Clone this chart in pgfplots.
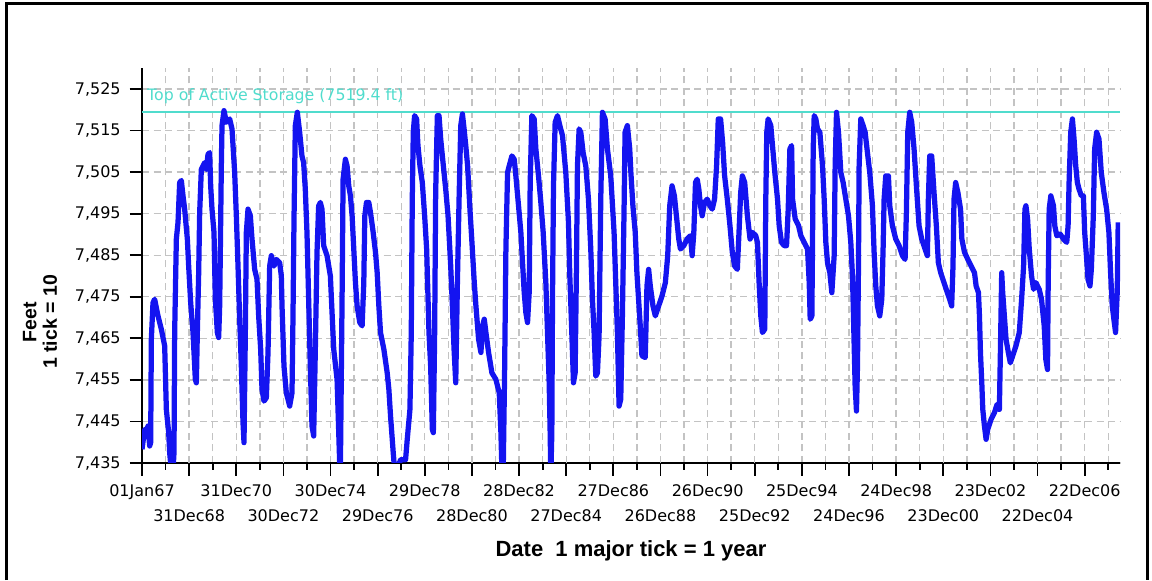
\documentclass[border=0pt]{standalone}
\usepackage{pgfplots}
\pgfplotsset{compat=1.18}
\usepackage{fontspec}
\setmainfont{DejaVu Sans}
\newfontfamily\labelfont{Liberation Sans}
\definecolor{lineblue}{RGB}{20,20,240}
\definecolor{topline}{RGB}{80,220,205}
\definecolor{gridgray}{RGB}{195,195,195}

% reservoir elevation, x = years (365 d) after 01Jan67
\pgfplotstableread{
x y
0.000 7438.3
0.113 7443.1
0.184 7442.3
0.255 7443.9
0.325 7439.1
0.368 7439.9
0.396 7464.8
0.467 7473.6
0.537 7474.4
0.679 7470.4
0.820 7467.2
0.962 7463.2
1.033 7447.9
1.132 7442.3
1.174 7437.5
1.245 7433.0
1.315 7433.0
1.358 7437.5
1.386 7466.4
1.457 7488.9
1.528 7492.9
1.598 7502.5
1.669 7503.0
1.740 7499.3
1.810 7496.1
1.924 7488.9
1.980 7482.4
2.065 7473.6
2.164 7466.4
2.263 7455.1
2.306 7454.3
2.348 7466.4
2.405 7480.8
2.447 7495.3
2.518 7505.7
2.659 7507.3
2.730 7505.7
2.801 7509.3
2.871 7509.7
2.914 7501.7
2.970 7496.1
3.055 7490.5
3.112 7474.4
3.197 7466.4
3.253 7465.2
3.296 7472.8
3.366 7506.5
3.395 7516.2
3.479 7519.8
3.579 7517.0
3.720 7517.8
3.819 7515.4
3.932 7504.9
4.003 7494.5
4.074 7482.4
4.144 7469.6
4.215 7458.3
4.286 7444.7
4.328 7439.9
4.385 7466.4
4.427 7490.5
4.498 7496.1
4.597 7494.5
4.668 7488.9
4.781 7481.6
4.880 7479.2
4.950 7470.4
5.035 7462.4
5.092 7452.7
5.177 7449.9
5.276 7450.7
5.347 7461.6
5.417 7482.4
5.488 7484.9
5.601 7482.4
5.700 7484.0
5.842 7483.2
5.912 7480.0
5.941 7472.8
6.025 7458.3
6.124 7451.9
6.266 7448.7
6.365 7451.9
6.407 7470.4
6.450 7493.7
6.506 7516.2
6.591 7519.4
6.690 7514.6
6.787 7508.9
6.858 7507.3
6.929 7500.9
7.000 7490.5
7.071 7474.4
7.142 7458.3
7.213 7443.9
7.284 7441.5
7.355 7462.4
7.426 7485.7
7.496 7496.9
7.567 7497.7
7.638 7496.1
7.709 7487.3
7.851 7484.9
7.993 7480.0
8.064 7471.2
8.135 7462.4
8.277 7455.1
8.348 7442.3
8.390 7434.5
8.418 7433.5
8.447 7450.3
8.489 7474.4
8.532 7503.3
8.631 7508.1
8.702 7506.5
8.773 7501.7
8.844 7499.3
8.915 7494.5
8.986 7486.5
9.057 7478.4
9.128 7472.8
9.241 7468.8
9.340 7468.0
9.411 7478.4
9.454 7494.5
9.525 7497.7
9.624 7497.7
9.695 7495.3
9.809 7490.5
9.908 7485.7
9.979 7480.8
10.050 7472.8
10.121 7466.4
10.262 7462.4
10.404 7456.7
10.475 7452.7
10.546 7446.3
10.660 7437.5
10.716 7433.5
10.830 7433.5
10.972 7435.8
11.184 7435.8
11.255 7440.7
11.369 7447.9
11.426 7466.4
11.468 7498.5
11.511 7514.6
11.567 7518.6
11.652 7517.8
11.709 7511.4
11.794 7506.5
11.894 7502.5
11.993 7494.5
12.078 7486.5
12.177 7466.4
12.248 7458.3
12.319 7443.1
12.362 7442.3
12.418 7466.4
12.461 7500.1
12.532 7518.6
12.603 7518.6
12.674 7513.0
12.787 7506.5
12.887 7500.9
12.986 7494.5
13.099 7482.4
13.170 7472.8
13.241 7462.4
13.312 7454.3
13.383 7478.4
13.454 7498.5
13.525 7516.2
13.596 7519.0
13.667 7515.4
13.738 7511.4
13.816 7506.5
13.915 7496.1
14.000 7488.1
14.099 7478.4
14.169 7472.8
14.282 7464.8
14.381 7461.6
14.452 7468.0
14.523 7469.6
14.593 7466.4
14.706 7461.6
14.847 7456.7
15.017 7455.1
15.158 7451.9
15.229 7442.3
15.271 7433.5
15.328 7433.5
15.384 7455.9
15.441 7486.5
15.511 7504.9
15.582 7506.5
15.695 7508.9
15.794 7508.1
15.864 7504.1
15.977 7496.9
16.076 7490.5
16.147 7483.2
16.218 7476.0
16.288 7471.2
16.359 7468.8
16.429 7476.0
16.472 7502.5
16.542 7518.6
16.641 7517.8
16.712 7510.6
16.825 7504.1
16.924 7497.7
17.023 7490.5
17.136 7478.4
17.206 7466.4
17.277 7454.3
17.319 7442.3
17.347 7432.0
17.390 7442.3
17.418 7474.4
17.460 7501.7
17.531 7517.0
17.630 7518.6
17.729 7516.2
17.842 7513.8
17.983 7504.9
18.096 7492.9
18.153 7480.0
18.237 7466.4
18.308 7454.3
18.379 7456.7
18.435 7482.4
18.477 7506.5
18.548 7515.4
18.619 7514.6
18.718 7509.7
18.831 7506.5
18.944 7498.5
19.042 7486.5
19.113 7474.4
19.184 7466.4
19.254 7455.9
19.325 7456.7
19.395 7465.6
19.466 7498.5
19.537 7519.4
19.650 7517.8
19.749 7510.6
19.890 7504.1
20.031 7490.5
20.102 7478.4
20.172 7466.4
20.243 7448.7
20.314 7450.3
20.384 7470.4
20.455 7496.1
20.497 7514.6
20.596 7516.2
20.695 7510.6
20.744 7504.9
20.830 7496.9
20.929 7490.5
21.000 7480.8
21.071 7474.4
21.142 7468.0
21.213 7460.8
21.355 7460.4
21.426 7477.6
21.497 7481.6
21.568 7477.6
21.682 7472.8
21.781 7470.4
21.923 7472.8
22.065 7475.2
22.207 7478.4
22.307 7484.9
22.392 7496.9
22.491 7501.7
22.591 7499.3
22.676 7494.5
22.776 7488.9
22.847 7486.5
22.989 7487.3
23.131 7488.9
23.273 7489.7
23.344 7484.9
23.415 7490.5
23.486 7502.5
23.557 7503.3
23.628 7500.9
23.699 7496.9
23.770 7494.5
23.869 7497.7
23.983 7498.5
24.097 7496.9
24.196 7496.1
24.295 7498.5
24.381 7506.5
24.452 7517.8
24.551 7517.8
24.636 7512.2
24.722 7504.1
24.835 7498.5
24.949 7492.1
25.048 7485.7
25.148 7482.4
25.261 7481.6
25.332 7490.5
25.403 7500.1
25.474 7504.1
25.574 7502.5
25.688 7494.5
25.801 7488.9
25.901 7490.5
26.043 7489.7
26.114 7488.1
26.185 7478.4
26.256 7470.4
26.327 7466.4
26.426 7467.2
26.469 7498.5
26.511 7514.6
26.568 7517.8
26.682 7516.2
26.753 7511.4
26.852 7504.9
26.966 7498.5
27.037 7492.1
27.136 7488.1
27.250 7487.3
27.349 7487.3
27.420 7496.1
27.491 7510.6
27.563 7511.4
27.605 7498.5
27.718 7493.7
27.859 7492.1
27.958 7489.7
28.099 7488.1
28.240 7486.5
28.311 7478.4
28.353 7469.6
28.424 7470.4
28.452 7488.1
28.480 7510.6
28.523 7518.6
28.593 7517.8
28.664 7515.4
28.763 7514.6
28.876 7506.5
28.946 7498.5
29.017 7488.1
29.088 7483.2
29.186 7480.8
29.271 7476.0
29.370 7484.9
29.412 7506.5
29.469 7519.4
29.554 7514.6
29.653 7504.9
29.751 7502.5
29.864 7498.5
29.977 7494.5
30.076 7488.1
30.147 7480.0
30.189 7470.4
30.260 7453.5
30.316 7447.5
30.359 7458.3
30.401 7482.4
30.429 7506.5
30.500 7517.8
30.599 7516.2
30.684 7514.6
30.782 7509.7
30.881 7504.9
30.994 7496.9
31.065 7485.7
31.136 7477.6
31.206 7472.8
31.305 7470.4
31.390 7474.4
31.446 7486.5
31.489 7498.5
31.559 7504.1
31.672 7504.1
31.729 7496.9
31.842 7492.1
31.983 7488.9
32.124 7487.3
32.266 7484.9
32.379 7484.0
32.435 7495.3
32.492 7514.6
32.576 7519.4
32.661 7517.0
32.760 7510.6
32.859 7501.7
32.972 7492.1
33.085 7488.9
33.226 7486.5
33.325 7484.9
33.367 7498.5
33.424 7508.9
33.508 7508.9
33.607 7500.1
33.706 7492.1
33.791 7483.2
33.890 7480.8
34.031 7478.4
34.172 7476.0
34.271 7474.4
34.356 7472.8
34.412 7482.4
34.455 7498.5
34.525 7502.5
34.620 7500.1
34.732 7496.1
34.789 7488.9
34.901 7485.7
35.042 7484.0
35.183 7482.4
35.324 7480.8
35.394 7477.6
35.493 7476.0
35.535 7470.4
35.577 7461.6
35.634 7454.3
35.676 7447.9
35.746 7443.9
35.817 7440.7
35.887 7443.1
36.028 7445.5
36.169 7447.1
36.282 7449.1
36.380 7447.9
36.423 7461.6
36.479 7480.8
36.521 7476.0
36.592 7470.4
36.662 7464.8
36.761 7461.6
36.845 7459.1
36.944 7460.8
37.085 7463.2
37.225 7466.4
37.324 7474.4
37.408 7482.4
37.465 7496.1
37.507 7496.9
37.577 7493.7
37.648 7486.5
37.746 7480.0
37.831 7476.8
37.930 7478.4
38.070 7476.8
38.169 7474.4
38.282 7468.0
38.352 7459.9
38.423 7457.5
38.451 7478.4
38.493 7496.1
38.563 7499.3
38.676 7496.9
38.732 7492.1
38.817 7489.7
38.958 7490.1
39.099 7488.9
39.239 7488.1
39.296 7492.1
39.338 7502.5
39.408 7514.6
39.479 7517.8
39.549 7513.0
39.620 7506.5
39.690 7502.5
39.761 7500.9
39.859 7499.3
39.944 7499.3
40.000 7490.5
40.085 7484.0
40.141 7479.2
40.225 7477.6
40.282 7481.6
40.366 7494.5
40.423 7510.6
40.507 7514.6
40.606 7513.0
40.704 7504.9
40.817 7500.1
40.930 7496.1
41.028 7490.5
41.099 7480.8
41.169 7472.8
41.239 7469.6
41.310 7466.4
41.380 7476.0
41.423 7492.9
}\elevation

\begin{document}
\begin{tikzpicture}[x=0.4pt,y=0.4pt]
\useasboundingbox (0,0) rectangle (1152,580);
\draw[line width=1.2pt] (6,0) -- (6,576) -- (1147,576) -- (1147,0);
\begin{axis}[
    at={(56.8pt,46.8pt)}, anchor=south west,
    scale only axis, width=391.2pt, height=157.9pt,
    xmin=0, xmax=41.5, ymin=7435, ymax=7530,
    axis lines=left,
    axis line style={-, line width=0.8pt},
    tick align=outside,
    major tick length=5pt, minor tick length=2.7pt,
    tick style={black, line width=0.7pt},
    ytick={7435,7445,...,7525},
    xtick={0,4,...,40},
    xticklabels={01Jan67,31Dec70,30Dec74,29Dec78,28Dec82,27Dec86,26Dec90,25Dec94,24Dec98,23Dec02,22Dec06},
    minor xtick={1,3,...,41},
    extra x ticks={2,6,...,38},
    extra x tick labels={31Dec68,30Dec72,29Dec76,28Dec80,27Dec84,26Dec88,25Dec92,24Dec96,23Dec00,22Dec04},
    extra x tick style={grid=major, xticklabel style={yshift=-10pt}},
    grid=both,
    major grid style={gridgray, dash pattern=on 2.8pt off 1.8pt, line width=0.55pt},
    minor grid style={gridgray, dash pattern=on 2.8pt off 1.8pt, line width=0.55pt},
    ticklabel style={font=\fontsize{6.4}{7.4}\selectfont},
    xticklabel style={anchor=north, yshift=-0.3pt},
    /pgf/number format/.cd, 1000 sep={,}, assume math mode=true,
]
\addplot[topline, line width=0.8pt] coordinates {(0,7519.4) (41.5,7519.4)};
\node[anchor=west, text=topline, font=\fontsize{6.3}{7}\selectfont, inner sep=0pt]
    at (axis cs:0.2,7523.2) {Top of Active Storage (7519.4 ft)};
\addplot[lineblue, line width=2.1pt, line join=round] table[x=x, y=y] {\elevation};
\end{axis}
\node[rotate=90, align=center, font=\labelfont\bfseries\fontsize{7.8}{8.2}\selectfont]
    at (40,258) {Feet\\1 tick = 10};
\node[font=\labelfont\bfseries\fontsize{8.8}{10}\selectfont] at (631,29) {Date~~1 major tick = 1 year};
\end{tikzpicture}
\end{document}
